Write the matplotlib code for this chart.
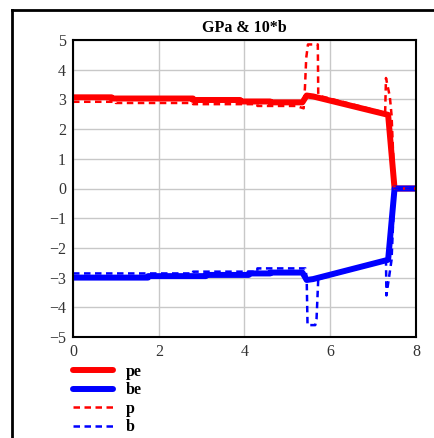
import matplotlib.pyplot as plt
from matplotlib.lines import Line2D

# data
pe_x = [0, 0.9, 0.9, 2.8, 2.8, 3.9, 3.9, 4.6, 4.6, 5.35, 5.45, 5.6, 7.35, 7.5, 8.0]
pe_y = [3.07, 3.07, 3.03, 3.03, 2.98, 2.98, 2.93, 2.93, 2.90, 2.90, 3.13, 3.1, 2.48, 0.0, 0.0]

be_x = [0, 1.75, 1.75, 3.1, 3.1, 4.1, 4.1, 4.6, 4.6, 5.35, 5.45, 5.6, 7.35, 7.5, 8.0]
be_y = [-3.0, -3.0, -2.95, -2.95, -2.91, -2.91, -2.86, -2.86, -2.83, -2.83, -3.08, -3.05, -2.4, 0.0, 0.0]

p_x = [0, 1.0, 1.0, 2.8, 2.8, 4.3, 4.3, 5.2, 5.38, 5.41, 5.44, 5.48, 5.71, 5.72, 5.8,
       7.28, 7.3, 7.39, 7.43, 7.5, 8.0]
p_y = [2.92, 2.92, 2.88, 2.88, 2.84, 2.84, 2.78, 2.78, 2.7, 3.4, 4.4, 4.85, 4.85, 3.15, 3.1,
       2.55, 3.72, 3.09, 2.47, 0.0, 0.0]

b_x = [0, 2.8, 2.8, 4.3, 4.3, 5.42, 5.45, 5.47, 5.65, 5.68, 5.72,
       7.28, 7.3, 7.31, 7.43, 7.5, 8.0]
b_y = [-2.86, -2.86, -2.8, -2.8, -2.69, -2.69, -3.0, -4.6, -4.6, -4.4, -3.05,
       -2.45, -2.41, -3.6, -2.4, 0.0, 0.0]

x_ticks = [0, 2, 4, 6, 8]
y_ticks = [-5, -4, -3, -2, -1, 0, 1, 2, 3, 4, 5]

plt.rcParams['font.family'] = ['Liberation Serif', 'DejaVu Serif']

fig = plt.figure(figsize=(4.35, 4.38), dpi=100)
ax = fig.add_axes([73/435, 1-337/438, 343/435, 297/438])

ax.plot(pe_x, pe_y, color='red', lw=4.3, label='pe', solid_joinstyle='round', solid_capstyle='round')
ax.plot(be_x, be_y, color='blue', lw=4.3, label='be', solid_joinstyle='round', solid_capstyle='round')
ax.plot(p_x, p_y, color='red', lw=1.8, ls=(0, (2.6, 1.8)), label='p')
ax.plot(b_x, b_y, color='blue', lw=1.8, ls=(0, (2.6, 1.8)), label='b')

ax.set_xlim(0, 8)
ax.set_ylim(-5, 5)
ax.set_xticks(x_ticks)
ax.set_yticks(y_ticks)
ax.grid(True, color='#c8c8c8', lw=1)
ax.set_axisbelow(True)
ax.tick_params(length=0, labelsize=11.5, labelcolor='#333333', pad=5)
for s in ax.spines.values():
    s.set_linewidth(1.5)
    s.set_color('black')
ax.set_title('GPa & 10*b', fontsize=11.5, fontweight='bold', pad=6)

leg = fig.legend(loc='upper left', bbox_to_anchor=(73/435, 1-364/438), frameon=False,
                 borderpad=0, borderaxespad=0,
                 handlelength=2.5, handletextpad=0.8, labelspacing=0.15,
                 prop={'weight': 'bold', 'size': 11.5})

# outer frame
fig.add_artist(Line2D([12.5/435, 12.5/435], [0, 1-9.5/438], transform=fig.transFigure,
                      color='black', lw=2))
fig.add_artist(Line2D([12.5/435, 434/435], [1-9.5/438, 1-9.5/438], transform=fig.transFigure,
                      color='black', lw=2))

fig.savefig('out.png', dpi=100)
